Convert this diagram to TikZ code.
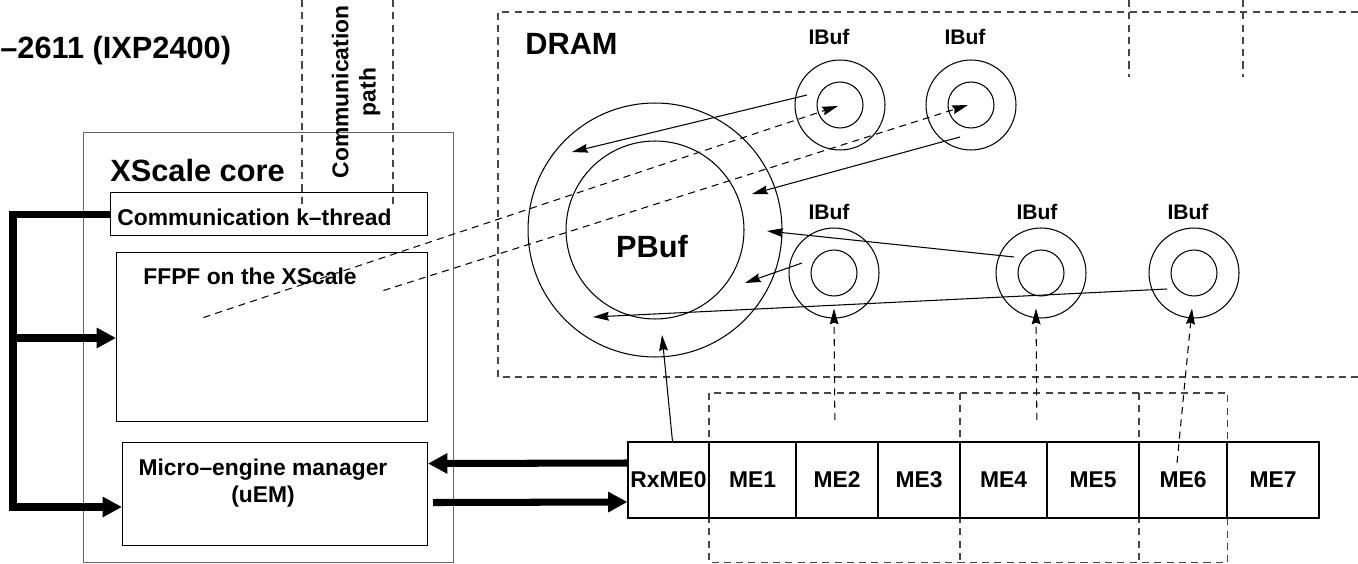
\documentclass[tikz,border=0pt]{standalone}
\usepackage{fontspec}
\setmainfont{Liberation Sans}
\usepackage{xcolor}
\definecolor{figgray}{RGB}{70,70,70}
\definecolor{boxgray}{RGB}{100,100,100}
\usetikzlibrary{arrows.meta, calc}

\begin{document}
\begin{tikzpicture}[x=0.02cm, y=-0.02cm,
  bigtxt/.style={font=\fontsize{17.5}{20}\selectfont\bfseries, inner sep=0pt},
  midtxt/.style={font=\fontsize{13}{15.5}\selectfont\bfseries, inner sep=0pt},
  ibtxt/.style={font=\fontsize{12}{14}\selectfont\bfseries, inner sep=0pt},
  pane/.style={rectangle, draw, line width=0.6pt, inner sep=0pt},
  mecell/.style={rectangle, draw, line width=0.6pt, inner sep=0pt,
                 minimum height=1.52cm, font=\fontsize{13}{15}\selectfont\bfseries},
  ring/.style={circle, draw, line width=0.6pt, inner sep=0pt},
  grp/.style={draw=figgray, line width=0.7pt, dash pattern=on 4pt off 3pt},
  grpbox/.style={rectangle, inner sep=0pt, minimum height=3.38cm, anchor=north west},
  flow/.style={line width=0.6pt, -{Stealth[length=9pt, width=5pt, inset=1pt]}},
  dflow/.style={flow, dash pattern=on 4pt off 3pt},
  fat/.style={line width=4pt, miter limit=4, -{Triangle[length=11pt, width=11pt]}}
]
\useasboundingbox (0,0) rectangle (1358,564);

\node[bigtxt, anchor=base west] (title) at (0,59) {–2611 (IXP2400)};

\node[pane, draw=boxgray, minimum width=7.4cm, minimum height=8.6cm, anchor=north west] (xsc) at (83,132) {};
\node[bigtxt, anchor=base west] (xsct) at (110,182) {XScale core};
\node[pane, minimum width=6.34cm, minimum height=0.86cm, anchor=north west] (kthr) at (110,192) {};
\node[midtxt, anchor=base west] (kthrt) at (117,225) {Communication k–thread};
\node[pane, minimum width=6.22cm, minimum height=3.38cm, anchor=north west] (ffpf) at (116,252) {};
\node[midtxt, anchor=base west] (ffpft) at (143,284) {FFPF on the XScale};
\node[pane, minimum width=6.1cm, minimum height=2.06cm, anchor=north west] (uem) at (122,442) {};
\node[midtxt, align=center] (uemt) at (263,483) {Micro–engine manager\\(uEM)};

\draw[grp] (302,0) -- (302,205);
\draw[grp] (393,0) -- (393,205);
\node[midtxt, rotate=90, align=center] (cpath) at (356,92) {Communication\\path};

\draw[grp] (1358,12) -| (498,377) -- (1358,377);
\draw[grp] (1129,0) -- (1129,77);
\draw[grp] (1243,0) -- (1243,77);
\node[bigtxt, anchor=base west] (dram) at (525,55) {DRAM};

\node[ring, minimum size=5.08cm] (pb) at (655,230) {};
\node[ring, minimum size=3.56cm] (pb-in) at (655,230) {};
\node[bigtxt, anchor=base] (pb-lb) at (652,257) {PBuf};

\foreach \n/\cx/\cy/\tx/\ty in {ibA/840/105/829/45, ibB/971/105/965/45,
    ibC/834/273/829/219, ibD/1041/273/1037/219, ibE/1194/273/1188/219}{
  \node[ring, minimum size=1.8cm] (\n) at (\cx,\cy) {};
  \node[ring, minimum size=0.92cm] (\n-in) at (\cx,\cy) {};
  \node[ibtxt, anchor=base] (\n-lb) at (\tx,\ty) {IBuf};
}

\node[grpbox, minimum width=5.02cm] (grpA) at (709,393) {};
\node[grpbox, minimum width=3.58cm] (grpB) at (960,393) {};
\node[grpbox, minimum width=1.76cm] (grpC) at (1139,393) {};
\draw[grp] (grpA.north west) rectangle (grpC.south east);
\draw[grp] (grpB.north west) -- (grpB.south west);
\draw[grp] (grpC.north west) -- (grpC.south west);

\foreach \xa/\xb/\n/\t in {628/709/me0/RxME0, 709/796/me1/ME1, 796/878/me2/ME2,
    878/960/me3/ME3, 960/1047/me4/ME4, 1047/1139/me5/ME5, 1139/1227/me6/ME6, 1227/1319/me7/ME7}
  \node[mecell, minimum width={(\xb-\xa)*0.02cm}] (\n) at ({(\xa+\xb)/2},480) {\t};

\coordinate (busend) at (13,507);
\coordinate (busmid) at (13,338);
\draw[fat] (kthr.west) -| (busend) -- (uem.west |- busend);
\draw[fat] (busmid) -- (ffpf.west |- busmid);
\draw[fat] ($(me0.west)+(0,-17)$) -- ($(uem.east)+(0,-30.5)$);
\draw[fat] ($(uem.east)+(5,8.5)$) -- ($(me0.west)+(0,22)$);

\draw[flow] ($(ibA)+(-33,-10)$) -- ($(pb)+(-83,-78)$);
\draw[flow] ($(ibB)+(-11,32)$) -- ($(pb)+(97,-36)$);
\draw[flow] ($(ibD)+(-27,-16)$) -- ($(pb)+(112,1)$);
\draw[flow] ($(ibC)+(-32,-10)$) -- ($(pb)+(90,53)$);
\draw[flow] ($(ibE)+(-27,16)$) -- ($(pb)+(-62,87)$);
\draw[flow] ($(me0.north)+(4,0)$) -- ($(pb)+(7,105)$);

\draw[dflow] ($(ffpf)+(-68.5,-19.5)$) -- ($(ibA)+(-2,1)$);
\draw[dflow] ($(ffpf)+(111.5,-46.5)$) -- ($(ibB)+(-3,0)$);
\draw[dflow] ($(grpA.north)+(0,27)$) -- ($(ibC.south)+(0,-10)$);
\draw[dflow] ($(grpB.north)+(-13,27)$) -- ($(ibD.south)+(-5,-10)$);
\draw[dflow] ($(me6)+(-6,-17)$) -- ($(ibE.south)+(-2,-10)$);
\end{tikzpicture}
\end{document}
